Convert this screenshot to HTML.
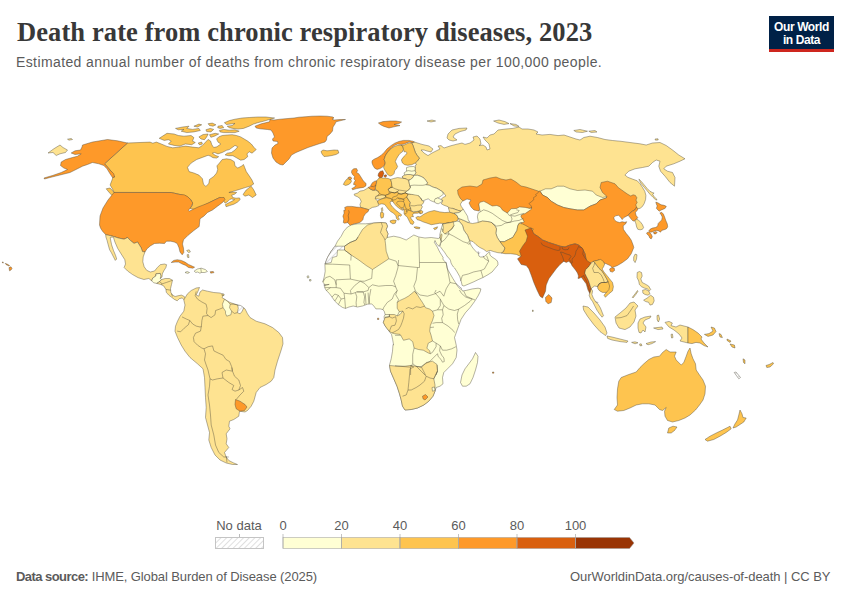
<!DOCTYPE html>
<html><head><meta charset="utf-8">
<title>Death rate from chronic respiratory diseases, 2023</title>
<style>
html,body{margin:0;padding:0;background:#fff;}
body{width:850px;height:600px;position:relative;overflow:hidden;font-family:"Liberation Sans",sans-serif;}
.title{position:absolute;left:17px;top:16px;font-family:"Liberation Serif",serif;font-weight:bold;font-size:26.5px;line-height:32px;color:#383838;white-space:nowrap;letter-spacing:0.1px;}
.sub{position:absolute;left:16px;top:52px;font-size:14px;line-height:20px;color:#5b5b5b;white-space:nowrap;letter-spacing:0.39px;}
.logo{position:absolute;left:769px;top:16px;width:65px;height:33px;background:#002147;border-bottom:3px solid #ce261e;color:#fff;text-align:center;font-weight:bold;font-size:12px;line-height:12.5px;letter-spacing:-0.4px;}
.logo span{display:block;}
.logo span:first-child{margin-top:5px;}
.foot{position:absolute;top:569px;font-size:13px;line-height:16px;color:#5b5b5b;white-space:nowrap;}
.fl{left:16px;}
.fr{left:570px;letter-spacing:-0.05px;}
.lg{position:absolute;font-size:13px;color:#5b5b5b;line-height:14px;top:519px;white-space:nowrap;transform:translateX(-50%);}
svg{position:absolute;left:0;top:0;}
</style></head><body>
<div class="title">Death rate from chronic respiratory diseases, 2023</div>
<div class="sub">Estimated annual number of deaths from chronic respiratory disease per 100,000 people.</div>
<div class="logo"><span>Our World</span><span>in Data</span></div>
<svg width="850" height="600" viewBox="0 0 850 600">
<defs><pattern id="h" width="4" height="4" patternUnits="userSpaceOnUse" patternTransform="rotate(45)"><rect width="4" height="4" fill="#fff"/><line x1="0" y1="0" x2="0" y2="4" stroke="#dcdcdc" stroke-width="1.8"/></pattern></defs>
<path d="M127.5,143.0L150.0,142.1L152.8,143.2L156.4,142.1L161.3,144.0L167.0,146.4L172.7,147.8L178.3,147.2L185.4,146.1L192.5,147.1L198.9,147.8L202.4,145.4L205.9,141.8L208.1,139.4L210.6,141.1L211.8,144.7L213.7,147.5L216.9,146.8L220.8,144.0L218.0,142.1L216.6,139.0L218.7,136.9L222.2,135.5L227.2,135.0L232.2,134.7L236.4,135.5L240.7,136.9L244.2,139.0L247.7,141.1L251.3,144.0L254.1,147.5L256.2,149.6L252.0,153.2L249.2,151.7L247.0,153.9L247.7,156.7L244.2,159.5L240.7,160.2L236.4,157.7L232.9,155.7L228.6,155.7L225.1,154.9L227.2,153.2L231.4,152.5L235.0,150.0L237.8,146.8L235.0,145.4L232.2,147.5L229.3,149.6L226.5,150.3L222.2,152.5L218.0,153.9L214.4,152.5L212.3,153.2L215.2,155.3L218.7,156.7L216.6,158.1L213.0,157.7L210.2,156.0L208.1,155.3L202.4,157.4L196.7,159.5L191.1,163.1L187.5,167.3L189.0,171.6L193.9,173.0L198.9,175.1L202.4,178.7L203.5,184.3L205.9,186.4L208.8,183.6L209.5,179.4L213.7,176.5L216.6,173.0L217.7,169.4L216.9,165.9L219.4,163.1L222.2,159.5L226.5,158.8L230.7,159.5L234.3,161.7L235.0,165.9L237.8,168.0L241.4,166.2L243.5,164.5L244.6,167.3L246.3,171.6L249.2,175.8L252.0,180.1L253.7,184.0L250.1,186.2L245.2,187.6L239.5,189.4L233.9,191.1L228.9,192.5L233.1,192.1L236.7,192.5L234.6,194.2L231.7,195.1L232.7,197.5L236.0,198.2L239.5,197.9L240.2,199.6L237.4,202.2L233.9,204.2L229.6,205.6L226.1,206.7L225.4,204.6L228.9,202.7L232.7,200.8L234.6,199.6L231.3,198.9L229.6,199.6L227.5,201.7L225.1,203.2L223.2,200.3L221.4,198.9L219.7,197.5L214.0,200.3L208.4,203.2L201.3,207.0L195.0,209.5L189.9,208.5L192.5,205.0L191.2,199.9L186.3,196.2L180.0,194.5L171.2,192.5L114.0,192.4L112.5,189.0L110.1,185.0L112.0,180.1L113.0,177.0L114.6,177.0L112.5,173.7L110.1,170.0L106.2,165.5L104.5,163.8Z" fill="#fec44f" stroke="#4a4638" stroke-width="0.42" stroke-linejoin="round"/>
<path d="M82.5,145.0L92.5,142.0L107.5,139.5L117.5,140.8L127.5,143.0L104.5,163.8L106.2,165.5L110.0,170.0L113.8,173.8L114.5,177.0L112.5,177.5L110.0,173.8L107.0,168.8L103.8,165.5L98.8,163.8L92.5,162.5L87.5,164.5L82.5,166.2L75.0,170.0L70.0,172.5L60.0,175.0L50.0,177.5L44.5,179.0L44.0,178.0L52.5,175.5L61.2,172.5L67.5,169.5L63.8,168.0L60.5,165.5L61.2,162.0L65.5,159.5L72.5,157.5L77.5,156.2L81.2,153.8L75.0,154.5L71.2,153.0L75.0,150.8L80.5,150.0L82.0,147.0Z" fill="#fe9929" stroke="#4a4638" stroke-width="0.42" stroke-linejoin="round"/>
<path d="M106.2,188.8L110.0,188.0L113.8,192.0L114.5,196.2L112.0,195.5L108.8,192.0Z" fill="#fec44f" stroke="#4a4638" stroke-width="0.42" stroke-linejoin="round"/>
<path d="M48.0,153.0L53.8,148.8L60.0,145.0L63.0,147.5L67.5,150.0L65.5,152.5L60.0,153.8L56.2,155.5L53.0,152.5Z" fill="#fee391" stroke="#4a4638" stroke-width="0.42" stroke-linejoin="round"/>
<path d="M67.5,139.2L71.2,138.5L72.5,139.5L69.0,140.2Z" fill="#fee391" stroke="#4a4638" stroke-width="0.42" stroke-linejoin="round"/>
<path d="M159.2,138.3L167.0,133.3L174.1,134.0L178.3,135.5L184.0,136.2L191.1,135.5L193.9,137.6L192.5,141.1L195.3,142.5L191.8,144.7L185.4,144.0L179.7,146.1L174.1,145.4L168.4,144.0L171.2,141.1L168.4,139.7L164.2,140.4Z" fill="#fec44f" stroke="#4a4638" stroke-width="0.42" stroke-linejoin="round"/>
<path d="M175.5,128.4L182.6,127.0L189.0,126.2L186.8,128.4L192.5,129.4L198.9,128.4L200.3,130.5L193.9,131.9L186.8,132.6L181.2,131.2L184.0,129.4L178.3,129.8Z" fill="#fec44f" stroke="#4a4638" stroke-width="0.42" stroke-linejoin="round"/>
<path d="M193.9,126.2L198.9,124.1L201.7,124.8L197.5,127.0Z" fill="#fec44f" stroke="#4a4638" stroke-width="0.42" stroke-linejoin="round"/>
<path d="M208.1,123.7L212.3,123.1L215.9,124.8L213.0,126.2L209.5,125.5Z" fill="#fec44f" stroke="#4a4638" stroke-width="0.42" stroke-linejoin="round"/>
<path d="M205.9,129.8L210.2,128.4L213.7,129.4L210.9,131.9L206.7,131.6Z" fill="#fec44f" stroke="#4a4638" stroke-width="0.42" stroke-linejoin="round"/>
<path d="M198.9,136.9L203.1,134.5L208.1,134.0L206.7,136.9L204.5,139.7L201.0,139.0Z" fill="#fec44f" stroke="#4a4638" stroke-width="0.42" stroke-linejoin="round"/>
<path d="M209.5,134.7L215.2,133.3L218.7,134.0L214.4,136.2L210.9,137.3Z" fill="#fec44f" stroke="#4a4638" stroke-width="0.42" stroke-linejoin="round"/>
<path d="M198.2,143.0L201.7,142.1L202.4,144.0L199.6,144.9Z" fill="#fec44f" stroke="#4a4638" stroke-width="0.42" stroke-linejoin="round"/>
<path d="M218.0,126.2L222.2,125.5L223.7,127.7L220.1,128.4L217.7,127.7Z" fill="#fec44f" stroke="#4a4638" stroke-width="0.42" stroke-linejoin="round"/>
<path d="M219.4,130.5L223.7,129.4L229.3,130.2L235.0,129.8L239.2,131.2L235.0,132.6L229.3,132.6L223.7,132.6L220.1,131.9Z" fill="#fec44f" stroke="#4a4638" stroke-width="0.42" stroke-linejoin="round"/>
<path d="M224.4,122.7L229.3,120.6L235.0,119.2L242.1,118.0L249.2,117.5L257.6,117.0L266.1,117.0L270.0,117.5L274.6,118.0L270.4,119.2L263.3,121.3L257.6,122.7L253.4,124.1L249.2,126.2L243.5,128.4L237.8,129.1L232.9,128.4L229.3,127.7L227.2,126.2L232.2,125.5L235.0,123.4L230.0,124.1L226.5,124.5Z" fill="#fec44f" stroke="#4a4638" stroke-width="0.42" stroke-linejoin="round"/>
<path d="M246.2,190.0L251.2,186.2L253.8,190.0L256.2,195.0L252.5,197.5L248.8,195.0L245.0,196.2L243.0,194.5Z" fill="#fec44f" stroke="#4a4638" stroke-width="0.42" stroke-linejoin="round"/>
<path d="M255.0,126.2L261.2,123.8L269.5,121.8L270.0,119.5L274.0,120.0L280.0,119.2L288.0,118.5L294.0,118.0L299.0,117.2L305.0,116.8L312.0,116.2L320.0,116.0L327.0,116.2L333.0,117.0L334.0,118.0L332.0,119.0L334.0,120.0L340.0,119.5L345.5,119.5L340.0,120.8L336.0,121.8L335.0,124.0L333.0,127.0L332.5,131.0L330.0,134.0L327.0,136.5L326.5,140.0L325.0,142.0L320.0,143.5L314.0,145.5L308.0,147.5L302.0,150.0L296.0,152.5L291.5,155.0L289.0,159.0L286.0,162.0L283.0,165.0L280.0,164.5L276.0,162.0L273.0,158.0L271.5,153.0L272.0,148.0L275.0,145.0L278.0,143.5L277.5,141.5L273.0,141.0L272.5,139.0L274.5,137.0L273.0,133.0L271.0,130.0L267.5,129.5L260.0,128.8L256.2,128.0Z" fill="#fe9929" stroke="#4a4638" stroke-width="0.42" stroke-linejoin="round"/>
<path d="M321.0,151.5L323.0,150.0L327.0,150.8L330.0,150.5L334.0,150.0L338.0,150.2L338.8,153.0L336.0,154.5L332.0,155.5L328.0,156.2L324.0,156.5L322.0,154.0Z" fill="#fec44f" stroke="#4a4638" stroke-width="0.42" stroke-linejoin="round"/>
<path d="M99.5,225.0L100.5,228.0L102.5,231.2L105.8,234.8L112.0,236.0L118.5,238.0L124.0,239.2L127.5,237.5L130.5,240.5L134.0,243.5L137.5,242.0L141.0,247.8L142.5,251.8L145.0,252.0L146.8,249.0L150.2,246.0L154.5,243.5L159.5,243.2L164.5,243.5L166.5,241.2L170.8,241.2L174.2,242.0L177.2,243.5L179.0,247.8L180.0,252.0L182.2,254.8L183.8,252.5L183.5,248.2L182.5,244.0L183.5,239.8L187.8,235.5L193.5,230.8L199.2,226.5L200.0,218.8L203.8,216.2L207.5,212.5L212.5,210.0L217.5,206.2L222.5,202.5L225.0,199.5L224.0,197.5L219.8,197.5L214.0,200.2L208.2,203.0L202.8,205.2L198.5,206.8L194.2,208.8L189.2,211.2L188.5,210.2L191.2,206.8L192.8,203.0L190.5,199.5L187.8,196.8L184.2,194.8L180.0,194.5L171.2,192.5L114.0,192.5L108.0,200.0L103.0,208.0L100.0,216.0Z" fill="#fe9929" stroke="#4a4638" stroke-width="0.42" stroke-linejoin="round"/>
<path d="M105.7,234.6L112.0,236.0L118.4,238.0L124.1,239.2L127.6,237.5L130.5,240.6L134.0,243.4L137.5,242.0L141.1,247.7L142.5,251.6L145.0,251.9L143.2,256.9L142.8,261.8L144.2,266.8L146.7,270.3L150.3,272.0L154.5,271.0L157.4,267.5L160.2,264.7L164.4,264.0L166.6,264.7L165.9,267.5L163.7,271.0L162.3,273.9L162.0,277.1L160.9,278.1L160.2,278.5L160.9,276.0L160.2,273.4L155.9,273.9L155.9,276.0L152.7,278.1L151.7,280.9L148.9,278.5L143.9,279.5L138.2,277.7L132.6,274.6L127.6,271.0L124.1,267.5L125.5,264.0L124.8,259.7L121.2,254.0L117.7,248.4L114.9,242.0L113.5,237.5L112.0,237.0L110.2,237.7L111.6,244.8L113.5,250.5L115.6,255.5L116.7,259.0L115.3,260.4L113.5,256.9L111.3,252.6L109.6,249.8L108.2,244.8L107.1,240.6L105.9,237.0Z" fill="#fee391" stroke="#4a4638" stroke-width="0.42" stroke-linejoin="round"/>
<path d="M151.7,280.9L152.7,278.1L155.9,276.0L155.9,273.9L160.2,273.4L160.9,276.0L160.2,278.5L161.6,279.5L159.5,281.7L156.7,283.4L153.8,282.8Z" fill="#ffffd4" stroke="#4a4638" stroke-width="0.42" stroke-linejoin="round"/>
<path d="M161.6,279.5L165.2,278.5L169.4,278.5L172.5,280.2L171.5,284.5L170.5,288.7L170.8,292.3L172.5,295.1L175.1,296.5L177.9,295.8L181.4,295.1L184.3,296.5L185.7,299.4L184.3,300.1L182.2,297.9L179.3,298.7L177.2,300.8L174.4,299.4L171.5,297.2L168.7,295.1L166.3,292.3L165.9,289.4L163.7,285.9L160.9,284.5L156.7,283.4L159.5,281.7Z" fill="#fee391" stroke="#4a4638" stroke-width="0.42" stroke-linejoin="round"/>
<path d="M171.2,262.5L173.7,260.4L177.2,259.7L181.4,260.4L185.0,262.1L188.5,264.4L192.1,266.1L194.6,267.2L192.8,268.2L188.5,267.5L185.7,265.4L182.2,264.0L178.6,262.1L175.1,262.1Z" fill="#fe9929" stroke="#4a4638" stroke-width="0.42" stroke-linejoin="round"/>
<path d="M194.2,271.0L197.7,268.9L201.3,268.2L205.5,269.6L207.4,271.5L204.8,272.5L201.3,272.5L199.9,273.2L197.7,272.0L195.6,272.5Z" fill="#ffffd4" stroke="#4a4638" stroke-width="0.42" stroke-linejoin="round"/>
<path d="M185.0,272.5L187.1,271.5L189.5,272.5L187.8,273.4Z" fill="#ffffd4" stroke="#4a4638" stroke-width="0.42" stroke-linejoin="round"/>
<path d="M210.2,271.7L213.3,271.5L214.0,272.6L210.8,273.2Z" fill="#fe9929" stroke="#4a4638" stroke-width="0.42" stroke-linejoin="round"/>
<path d="M186.7,250.5L189.2,249.8L190.4,251.9L188.5,252.6Z" fill="#fee391" stroke="#4a4638" stroke-width="0.42" stroke-linejoin="round"/>
<path d="M187.1,254.7L188.5,254.5L189.0,257.6L187.5,257.3Z" fill="#fee391" stroke="#4a4638" stroke-width="0.42" stroke-linejoin="round"/>
<path d="M185.5,297.0L187.5,293.8L191.2,290.5L196.2,288.0L199.5,287.5L198.0,291.2L196.2,295.0L198.8,296.2L200.0,292.0L202.5,290.0L207.5,291.2L213.8,292.5L220.0,293.0L223.8,294.5L222.0,297.5L225.0,299.5L230.0,302.5L236.2,304.5L240.0,306.2L245.0,308.8L247.5,313.8L250.0,317.5L256.2,321.2L265.0,323.8L272.5,327.5L278.8,332.5L282.5,337.5L283.0,343.8L281.2,350.0L277.5,361.2L275.0,370.0L273.8,377.5L271.2,381.2L266.2,384.5L260.0,387.5L256.2,392.5L253.8,401.2L251.2,406.2L247.5,410.5L245.0,412.0L239.5,411.2L238.8,416.2L233.8,419.5L229.5,421.2L228.8,426.2L230.0,428.8L226.2,433.8L227.0,438.8L226.2,443.8L228.8,447.5L224.5,452.5L226.2,457.0L228.8,460.5L233.8,463.0L237.5,464.5L232.5,464.5L226.2,463.0L220.0,460.0L215.0,455.0L211.2,447.5L208.8,440.0L209.5,432.5L207.5,425.0L205.5,417.5L206.2,407.5L205.5,397.5L205.0,387.5L204.5,377.5L203.0,368.8L197.5,363.8L190.0,357.5L185.0,351.2L181.2,345.0L177.5,337.5L175.0,331.2L175.5,326.2L177.5,321.2L180.0,316.2L183.8,311.2L185.0,305.0L183.8,300.0Z" fill="#fee391" stroke="#4a4638" stroke-width="0.42" stroke-linejoin="round"/>
<path d="M235.5,399.5L240.0,401.2L245.0,404.5L247.0,407.0L244.5,410.5L240.0,411.2L236.2,408.8L235.0,404.5Z" fill="#fe9929" stroke="#4a4638" stroke-width="0.42" stroke-linejoin="round"/>
<path d="M224.5,299.2L227.4,301.3L230.2,304.2L229.5,307.7L231.6,311.2L230.9,314.8L226.7,316.2L225.5,313.4L225.5,311.2L223.1,307.7L222.4,304.2Z" fill="#ffffd4" stroke="#4a4638" stroke-width="0.42" stroke-linejoin="round"/>
<path d="M237.7,304.9L240.8,305.6L243.7,307.7L242.2,311.2L240.1,313.8L237.3,312.7L238.3,308.4Z" fill="url(#h)" stroke="#4a4638" stroke-width="0.42" stroke-linejoin="round"/>
<path d="M614.2,409.5L617.5,405.0L617.0,397.5L617.5,388.8L618.8,381.2L621.2,377.5L628.8,374.5L636.2,372.0L640.0,367.5L643.8,363.8L648.8,359.5L653.8,357.0L659.5,356.2L662.5,352.5L666.2,349.5L670.0,352.0L676.2,352.0L674.5,356.2L676.2,360.0L681.2,365.0L683.8,362.5L686.2,356.2L688.0,351.2L690.0,348.0L691.2,353.8L693.0,358.8L695.5,363.8L696.2,370.0L699.5,375.0L703.0,380.0L705.5,386.2L705.0,393.8L703.0,400.0L699.5,405.0L695.5,410.0L690.0,415.0L685.0,418.0L678.8,420.5L672.5,422.0L667.5,420.5L665.0,416.2L664.5,411.2L666.2,407.5L662.5,410.5L659.5,409.5L655.0,405.0L648.8,403.8L642.5,403.8L636.2,405.0L630.0,408.0L623.8,410.5L617.5,411.2Z" fill="#fec44f" stroke="#4a4638" stroke-width="0.42" stroke-linejoin="round"/>
<path d="M667.5,433.0L668.8,428.0L673.0,426.2L677.0,427.0L674.5,430.5L671.2,433.0Z" fill="#fec44f" stroke="#4a4638" stroke-width="0.42" stroke-linejoin="round"/>
<path d="M740.0,410.0L742.0,413.8L743.0,417.5L746.2,418.0L743.8,422.0L740.0,424.5L736.2,427.0L733.0,428.0L735.0,423.8L737.5,420.0L738.8,415.0Z" fill="#fec44f" stroke="#4a4638" stroke-width="0.42" stroke-linejoin="round"/>
<path d="M730.0,426.2L731.2,428.8L726.2,432.5L720.0,436.2L713.8,439.5L707.5,441.2L705.0,439.5L710.0,436.2L716.2,433.0L722.5,430.0L727.5,427.5Z" fill="#fec44f" stroke="#4a4638" stroke-width="0.42" stroke-linejoin="round"/>
<path d="M414.4,142.0L422.0,144.4L429.0,146.0L433.0,149.0L431.0,152.0L427.0,151.0L424.0,150.0L421.0,150.0L424.0,153.0L428.0,155.6L432.0,153.0L436.0,151.0L440.0,149.0L438.0,146.0L441.0,145.6L444.0,148.0L450.0,146.0L456.0,144.4L462.0,143.0L465.0,144.4L470.0,143.0L474.0,140.0L473.0,137.0L477.0,136.0L480.0,139.0L481.0,144.0L479.0,145.6L483.0,145.0L486.0,147.0L487.0,150.0L490.0,149.0L489.0,144.0L485.0,140.0L483.0,137.0L487.0,138.0L490.0,135.0L494.0,134.0L498.0,130.0L506.0,129.0L513.0,128.4L519.0,127.0L522.0,129.0L528.0,129.0L534.0,130.0L538.0,132.0L536.0,134.0L542.0,135.0L550.0,134.4L558.0,135.6L564.0,135.0L570.0,137.0L576.0,139.0L580.0,140.0L583.8,137.5L590.0,136.2L597.5,137.5L605.0,139.5L612.5,140.5L620.0,141.2L630.0,142.5L640.0,143.8L646.2,145.0L652.5,143.0L660.0,142.5L666.2,145.5L672.5,150.0L678.8,155.0L685.0,158.8L680.0,161.2L673.8,163.8L666.2,166.2L663.8,168.8L667.5,171.2L672.5,172.5L675.0,177.5L674.5,186.2L670.0,182.5L665.0,176.2L660.5,171.2L658.8,166.2L660.0,161.2L656.2,160.0L652.5,162.5L648.8,166.2L642.5,167.5L635.0,168.8L628.8,171.2L624.9,175.0L627.8,177.3L632.5,179.1L637.2,180.8L640.1,183.8L642.4,187.3L644.8,191.3L645.9,195.4L645.6,199.5L644.2,203.6L642.4,206.5L640.1,208.3L637.8,208.8L630.0,205.0L605.0,200.0L555.0,200.0L505.0,195.0L480.0,195.0L490.0,190.0L470.0,194.0L462.4,201.2L460.4,204.1L461.1,206.2L463.2,209.1L461.1,211.2L457.5,210.2L452.6,208.4L450.2,209.5L448.1,206.7L443.8,205.2L441.3,203.8L442.7,200.7L441.3,198.9L443.1,197.5L445.9,196.0L443.0,192.0L439.8,190.0L439.8,190.0L436.5,188.2L432.9,187.1L429.4,185.3L425.9,184.7L427.6,182.9L425.9,180.6L424.1,178.2L421.2,176.5L417.6,175.3L414.1,175.3L415.9,172.9L415.1,170.6L415.3,167.4L415.3,165.3L416.5,164.7L415.3,162.9L417.6,160.8L419.4,158.2L417.1,155.3L415.3,152.4L414.1,148.8L412.9,145.3L411.8,142.7Z" fill="#fee391" stroke="#4a4638" stroke-width="0.42" stroke-linejoin="round"/>
<path d="M402.4,176.5L404.5,175.9L406.5,176.8L405.9,178.5L402.9,178.2Z" fill="#fee391" stroke="#4a4638" stroke-width="0.42" stroke-linejoin="round"/>
<path d="M447.0,138.0L448.0,134.0L452.0,130.0L459.0,128.4L467.0,128.0L466.0,130.0L460.0,131.6L455.0,134.0L453.0,137.0L457.0,140.0L453.0,141.0L449.0,140.0Z" fill="#fee391" stroke="#4a4638" stroke-width="0.42" stroke-linejoin="round"/>
<path d="M427.0,121.0L432.0,120.0L435.6,121.0L431.0,122.0Z" fill="#fee391" stroke="#4a4638" stroke-width="0.42" stroke-linejoin="round"/>
<path d="M493.6,121.0L499.0,120.0L505.0,121.6L509.0,123.6L504.0,124.4L498.0,123.0Z" fill="#fee391" stroke="#4a4638" stroke-width="0.42" stroke-linejoin="round"/>
<path d="M510.0,123.6L516.0,124.4L519.0,126.4L514.0,126.0Z" fill="#fee391" stroke="#4a4638" stroke-width="0.42" stroke-linejoin="round"/>
<path d="M573.8,130.5L580.0,129.5L587.5,131.2L582.5,132.5L576.2,132.0Z" fill="#fee391" stroke="#4a4638" stroke-width="0.42" stroke-linejoin="round"/>
<path d="M588.8,131.2L595.0,130.5L597.0,132.0L591.2,132.5Z" fill="#fee391" stroke="#4a4638" stroke-width="0.42" stroke-linejoin="round"/>
<path d="M638.9,179.1L641.3,181.4L644.2,184.9L647.1,188.4L650.0,191.3L652.3,192.5L654.1,193.1L652.6,194.3L654.1,196.6L656.4,198.9L657.0,200.1L655.3,199.5L652.9,197.2L650.0,194.3L647.1,190.8L644.2,187.3L641.3,183.8L639.5,180.8Z" fill="#fee391" stroke="#4a4638" stroke-width="0.42" stroke-linejoin="round"/>
<path d="M457.6,190.0L462.0,187.0L470.0,186.0L477.0,187.0L482.0,184.0L483.0,180.0L490.0,178.0L496.0,177.0L501.0,179.0L506.0,180.0L511.0,179.0L516.0,182.0L521.0,186.0L526.0,187.0L532.0,189.0L538.0,191.0L543.0,194.0L542.0,199.0L538.0,202.0L537.0,206.0L536.0,210.0L530.0,212.0L525.0,211.0L519.0,212.0L514.0,213.0L510.0,215.0L506.0,213.0L501.0,210.0L496.0,208.0L490.0,206.0L484.0,205.0L479.0,204.0L480.0,208.0L479.0,211.0L474.0,210.0L471.0,207.0L469.0,203.0L471.0,200.0L467.0,199.0L463.0,201.0L460.0,198.0L458.0,194.0Z" fill="#fe9929" stroke="#4a4638" stroke-width="0.42" stroke-linejoin="round"/>
<path d="M540.0,191.2L545.5,188.8L551.2,188.8L557.5,186.2L563.8,186.2L570.0,188.8L577.5,190.5L585.0,190.0L592.5,191.2L596.2,195.0L602.5,197.5L607.0,196.5L606.2,198.0L600.0,200.0L596.2,203.8L590.0,206.2L583.8,210.0L577.5,210.0L570.0,208.8L563.8,207.5L557.5,205.0L551.2,201.2L547.5,197.5L542.5,195.0Z" fill="#ffffd4" stroke="#4a4638" stroke-width="0.42" stroke-linejoin="round"/>
<path d="M515.8,227.6L517.6,218.2L527.1,208.8L531.6,207.9L531.3,206.0L528.9,203.6L532.7,200.8L534.1,198.9L533.2,198.0L536.5,195.6L535.5,194.7L538.4,192.4L539.3,190.9L540.0,191.2L542.5,195.0L547.5,197.5L551.2,201.2L557.5,205.0L563.8,207.5L570.0,208.8L577.5,210.0L583.8,210.0L590.0,206.2L596.2,203.8L600.0,200.0L606.2,198.0L607.0,196.5L602.5,192.5L600.0,187.5L601.2,182.5L607.5,181.2L615.0,183.8L618.5,187.8L622.0,190.2L624.9,192.3L627.8,194.3L630.8,196.0L633.1,194.8L635.4,195.4L636.9,197.8L636.0,200.1L637.2,202.4L635.8,204.8L636.6,207.1L634.8,210.0L632.5,211.2L630.2,212.9L628.1,215.3L626.1,216.4L623.8,217.6L622.2,219.6L620.6,217.2L618.5,215.3L615.6,215.8L613.8,217.6L614.4,219.9L616.8,221.7L619.7,222.6L622.0,221.7L624.9,222.3L626.7,221.7L625.5,224.0L623.2,225.8L623.4,229.3L626.1,233.3L629.0,236.8L631.3,240.3L633.1,245.0L633.8,247.5L631.2,253.8L627.5,258.8L622.5,262.5L617.5,265.5L612.5,267.5L610.0,265.5L606.2,263.8L602.5,262.5L598.8,260.0L595.0,261.2L591.2,262.5L588.0,264.5L586.2,260.0L585.0,253.8L582.5,248.8L578.8,245.0L575.0,243.8L570.0,245.0L565.0,247.0L560.0,246.2L555.0,244.5L548.8,242.5L542.5,240.0L538.8,237.0L533.8,233.8L528.8,229.5L525.0,230.0L522.5,225.0L520.0,221.2Z" fill="#fe9929" stroke="#4a4638" stroke-width="0.42" stroke-linejoin="round"/>
<path d="M480.0,202.2L483.8,201.3L487.5,203.2L492.2,206.0L496.9,205.5L500.2,206.9L502.6,210.2L507.3,213.1L511.1,208.8L516.7,208.4L519.5,206.9L525.2,207.4L529.9,208.4L531.6,207.9L531.3,209.3L528.0,211.6L525.2,213.5L521.4,214.9L520.9,216.8L522.8,219.2L524.2,222.0L523.3,222.5L520.5,222.5L518.6,223.9L517.7,226.1L517.0,230.3L514.9,233.9L512.8,237.4L508.5,239.5L504.3,241.7L500.0,241.7L497.2,237.4L495.8,233.2L496.5,228.9L495.1,226.1L491.5,222.5L487.3,221.5L482.3,221.1L478.1,222.5L478.1,220.4L477.4,216.9L478.1,213.3L480.2,211.9L479.5,208.4L478.8,204.1Z" fill="#ffffd4" stroke="#4a4638" stroke-width="0.42" stroke-linejoin="round"/>
<path d="M458.2,218.3L460.4,219.0L463.9,220.4L468.2,222.5L472.4,223.5L478.1,222.5L482.3,221.1L487.3,221.5L491.5,222.5L495.1,226.1L496.5,228.9L495.8,233.2L497.2,237.4L500.0,241.7L502.2,244.5L505.0,248.0L503.6,251.6L501.4,253.0L497.9,252.7L493.7,251.6L490.1,250.4L486.6,251.6L483.7,249.4L479.5,247.3L475.9,244.5L473.1,241.7L471.0,240.9L469.6,240.9L467.5,235.3L463.9,230.3L462.5,225.4L459.7,221.8Z" fill="#fee391" stroke="#4a4638" stroke-width="0.42" stroke-linejoin="round"/>
<path d="M502.2,244.5L500.0,241.7L504.3,241.7L508.5,239.5L512.8,237.4L514.9,233.9L517.0,230.3L517.7,226.1L519.2,223.2L522.7,224.0L525.5,225.4L529.1,227.5L533.3,228.9L531.9,231.7L529.1,233.2L529.8,237.4L528.4,240.9L526.2,244.5L524.1,248.0L521.3,249.4L522.0,252.3L523.4,255.1L520.6,256.5L516.3,254.4L510.7,253.7L505.0,253.7L501.4,253.0L503.6,251.6L505.0,248.0Z" fill="#fec44f" stroke="#4a4638" stroke-width="0.42" stroke-linejoin="round"/>
<path d="M525.0,230.0L528.0,229.0L531.2,228.0L533.8,233.8L538.8,237.0L542.5,240.0L548.8,242.5L555.0,244.5L560.0,246.2L565.0,247.0L570.0,245.0L575.0,243.8L578.8,245.0L582.5,248.8L585.0,253.8L586.2,260.0L588.0,264.5L590.0,267.5L587.5,271.2L585.0,273.8L586.2,277.5L588.8,282.5L590.5,288.8L590.0,293.8L588.0,290.0L586.2,283.8L582.5,278.8L579.5,275.0L577.5,271.2L574.5,267.5L571.2,263.8L568.8,261.2L566.2,262.5L563.8,261.2L560.0,264.5L556.2,268.8L552.5,273.8L548.8,278.8L546.2,285.0L545.5,291.2L542.5,298.0L540.0,296.2L537.0,290.0L533.8,282.5L531.2,275.0L528.8,268.8L526.2,265.5L521.2,264.5L517.5,258.8L521.2,256.2L519.5,251.2L522.5,246.2L526.2,241.2L527.5,236.2Z" fill="#d95f0e" stroke="#4a4638" stroke-width="0.42" stroke-linejoin="round"/>
<path d="M545.5,297.5L548.8,294.5L552.0,298.0L551.2,302.5L548.0,303.8L545.8,301.2Z" fill="#fe9929" stroke="#4a4638" stroke-width="0.42" stroke-linejoin="round"/>
<path d="M578.5,246.5L579.2,247.0L582.0,247.7L583.4,250.6L582.7,254.1L584.8,257.7L587.7,261.2L591.2,263.3L588.4,266.9L585.5,269.7L584.8,273.2L586.2,276.1L588.4,280.3L589.8,284.6L591.2,288.8L590.2,292.4L589.1,289.5L587.7,284.6L586.0,280.3L584.1,276.8L584.0,275.5L582.0,276.5L580.0,278.1L578.0,278.5L578.5,276.1L577.5,273.0L575.5,270.0L573.5,267.6L571.9,265.5L571.5,263.5L572.5,262.1L571.9,259.9L572.9,257.9L574.5,256.5L575.5,254.0L576.0,251.0L577.5,249.0Z" fill="#d95f0e" stroke="#4a4638" stroke-width="0.42" stroke-linejoin="round"/>
<path d="M591.2,263.3L593.3,261.2L594.7,262.6L596.9,265.5L599.0,268.3L602.1,271.1L604.4,274.7L606.8,278.9L608.2,281.7L606.1,282.5L601.8,282.5L599.0,283.9L597.6,286.7L594.7,286.0L592.6,287.4L591.2,288.8L589.8,284.6L588.4,280.3L586.2,276.1L584.8,273.2L585.5,269.7L588.4,266.9Z" fill="#fee391" stroke="#4a4638" stroke-width="0.42" stroke-linejoin="round"/>
<path d="M590.2,292.4L591.2,288.8L592.6,290.9L591.9,294.5L593.3,298.0L595.5,301.6L598.3,304.4L600.4,307.9L602.1,312.2L603.5,315.7L602.1,317.2L599.7,314.3L596.9,310.1L594.7,305.8L592.6,301.6L590.5,298.7L589.1,295.2Z" fill="#fee391" stroke="#4a4638" stroke-width="0.42" stroke-linejoin="round"/>
<path d="M593.3,261.2L596.9,260.5L600.4,259.4L603.2,261.2L604.7,264.0L603.5,266.9L602.1,269.0L604.0,272.1L606.8,275.4L609.6,278.9L612.5,282.5L613.4,286.7L612.5,290.9L608.9,293.8L605.4,297.3L604.0,295.2L606.4,292.4L602.5,292.4L599.7,290.9L597.9,288.8L597.6,286.7L599.0,283.9L601.8,282.5L606.1,282.5L608.2,281.7L606.8,278.9L604.4,274.7L602.1,271.1L599.0,268.3L596.9,265.5L594.7,262.6Z" fill="#fec44f" stroke="#4a4638" stroke-width="0.42" stroke-linejoin="round"/>
<path d="M609.6,269.0L611.7,267.6L614.3,268.3L614.6,270.4L612.5,272.1L610.3,271.5Z" fill="#fe9929" stroke="#4a4638" stroke-width="0.42" stroke-linejoin="round"/>
<path d="M633.7,257.0L635.1,254.1L637.0,254.8L636.5,259.1L635.1,262.6L633.7,260.5Z" fill="#fee391" stroke="#4a4638" stroke-width="0.42" stroke-linejoin="round"/>
<path d="M637.2,272.5L639.4,271.5L641.5,272.5L642.2,276.1L640.8,278.9L642.2,282.5L645.0,283.9L648.6,286.0L650.7,289.5L649.3,290.9L647.2,288.8L644.3,288.1L641.5,286.7L639.4,284.6L638.7,281.0L637.0,277.5Z" fill="#fee391" stroke="#4a4638" stroke-width="0.42" stroke-linejoin="round"/>
<path d="M642.6,290.2L645.7,289.5L648.6,290.9L650.0,293.8L647.9,295.2L645.0,294.5L642.9,293.1Z" fill="#fee391" stroke="#4a4638" stroke-width="0.42" stroke-linejoin="round"/>
<path d="M643.6,300.2L647.2,298.0L650.7,295.2L653.5,297.3L654.2,300.9L652.5,304.4L650.0,305.1L648.6,302.3L645.7,301.6Z" fill="#fee391" stroke="#4a4638" stroke-width="0.42" stroke-linejoin="round"/>
<path d="M632.3,297.3L635.1,293.8L637.5,290.5L637.9,291.4L635.8,294.5L633.0,298.0Z" fill="#fee391" stroke="#4a4638" stroke-width="0.42" stroke-linejoin="round"/>
<path d="M583.0,306.0L588.0,307.0L594.0,313.0L600.0,320.0L605.0,327.0L607.0,333.0L605.6,335.6L600.0,331.6L593.6,324.4L587.6,316.4L583.6,310.0Z" fill="#fee391" stroke="#4a4638" stroke-width="0.42" stroke-linejoin="round"/>
<path d="M607.0,336.0L612.0,337.0L620.0,339.0L628.0,341.0L627.0,342.4L620.0,341.6L612.0,340.0L607.6,338.4Z" fill="#fee391" stroke="#4a4638" stroke-width="0.42" stroke-linejoin="round"/>
<path d="M615.0,317.0L620.0,313.0L626.0,308.0L630.0,303.0L634.0,302.0L638.0,306.0L635.0,310.0L636.0,316.0L634.0,322.0L630.0,327.0L625.0,329.6L619.0,328.0L616.0,323.0Z" fill="#fee391" stroke="#4a4638" stroke-width="0.42" stroke-linejoin="round"/>
<path d="M638.0,323.0L640.0,319.0L645.0,317.0L651.0,316.0L650.0,318.0L645.0,320.0L643.0,323.0L646.0,327.0L645.0,332.0L643.0,330.0L641.0,333.0L639.0,332.4L638.0,328.0Z" fill="#fee391" stroke="#4a4638" stroke-width="0.42" stroke-linejoin="round"/>
<path d="M631.6,342.4L635.0,341.8L638.0,342.8L635.0,343.8Z" fill="#fee391" stroke="#4a4638" stroke-width="0.42" stroke-linejoin="round"/>
<path d="M639.6,344.0L641.2,343.8L642.0,345.6L640.0,345.8Z" fill="#fee391" stroke="#4a4638" stroke-width="0.42" stroke-linejoin="round"/>
<path d="M646.0,343.6L651.0,342.0L655.6,341.6L652.0,343.6L648.0,344.8Z" fill="#fee391" stroke="#4a4638" stroke-width="0.42" stroke-linejoin="round"/>
<path d="M657.0,315.6L658.6,315.0L659.6,319.0L658.4,322.0L657.2,320.0Z" fill="#fee391" stroke="#4a4638" stroke-width="0.42" stroke-linejoin="round"/>
<path d="M653.6,328.0L657.0,327.6L662.0,327.0L663.0,329.0L658.0,329.6Z" fill="#fee391" stroke="#4a4638" stroke-width="0.42" stroke-linejoin="round"/>
<path d="M671.0,334.4L672.4,334.0L673.0,337.6L671.6,338.0Z" fill="#fee391" stroke="#4a4638" stroke-width="0.42" stroke-linejoin="round"/>
<path d="M637.8,208.8L637.2,210.6L635.4,212.3L636.0,215.3L637.8,217.6L636.6,219.3L634.8,220.7L633.1,221.1L631.3,219.3L629.6,217.0L628.1,215.3L630.2,212.9L632.5,211.2L634.8,210.0L636.6,207.1Z" fill="#fe9929" stroke="#4a4638" stroke-width="0.42" stroke-linejoin="round"/>
<path d="M634.8,220.7L636.6,219.3L638.3,219.9L640.7,222.3L642.4,224.6L643.6,227.5L642.4,229.3L640.1,229.8L637.8,229.3L636.6,226.9L636.0,224.0L635.4,222.3Z" fill="#fee391" stroke="#4a4638" stroke-width="0.42" stroke-linejoin="round"/>
<path d="M655.8,202.1L658.2,203.0L661.1,204.8L664.0,205.3L666.3,206.3L665.2,208.3L662.8,209.4L661.1,210.0L659.3,211.2L657.9,210.0L656.4,208.3L657.2,205.9L656.4,204.2Z" fill="#fe9929" stroke="#4a4638" stroke-width="0.42" stroke-linejoin="round"/>
<path d="M659.9,212.9L661.7,212.3L663.4,214.1L664.6,217.0L665.8,220.5L667.3,224.0L667.7,226.9L666.3,228.9L664.0,229.8L661.7,230.4L660.5,232.2L658.8,231.0L656.4,230.4L654.1,231.0L652.3,231.9L650.0,232.2L648.8,231.0L650.0,229.3L652.3,228.1L655.3,227.5L657.6,226.3L658.2,223.4L659.9,221.7L661.7,219.9L662.3,217.0L661.1,214.7Z" fill="#fe9929" stroke="#4a4638" stroke-width="0.42" stroke-linejoin="round"/>
<path d="M653.5,232.2L655.8,231.6L657.2,232.4L655.8,233.9L654.1,233.9Z" fill="#fe9929" stroke="#4a4638" stroke-width="0.42" stroke-linejoin="round"/>
<path d="M646.5,233.1L648.3,231.9L650.0,232.8L651.4,234.5L652.3,236.8L651.2,238.9L649.8,238.0L648.8,235.7L647.4,234.5Z" fill="#fe9929" stroke="#4a4638" stroke-width="0.42" stroke-linejoin="round"/>
<path d="M665.0,322.4L669.0,321.4L672.4,323.0L671.0,325.6L676.0,327.0L680.0,325.0L688.0,327.0L688.0,343.0L684.0,342.0L680.0,341.0L682.0,338.0L679.0,334.0L674.0,330.0L669.0,327.0Z" fill="#fee391" stroke="#4a4638" stroke-width="0.42" stroke-linejoin="round"/>
<path d="M688.0,327.0L693.0,329.6L698.0,333.0L702.0,337.0L701.0,339.0L704.0,343.0L708.0,347.0L704.0,345.6L700.0,343.0L696.0,342.4L692.0,343.6L688.0,343.0Z" fill="#fec44f" stroke="#4a4638" stroke-width="0.42" stroke-linejoin="round"/>
<path d="M704.4,334.4L709.0,333.6L713.0,331.0L711.0,327.0L714.4,328.0L716.0,331.6L713.0,335.0L708.0,336.4Z" fill="#fec44f" stroke="#4a4638" stroke-width="0.42" stroke-linejoin="round"/>
<path d="M719.0,333.6L721.0,334.4L722.4,337.6L720.0,337.0Z" fill="#fec44f" stroke="#4a4638" stroke-width="0.42" stroke-linejoin="round"/>
<path d="M727.0,339.0L731.0,341.0L730.0,342.4L727.0,340.4Z" fill="#fec44f" stroke="#4a4638" stroke-width="0.42" stroke-linejoin="round"/>
<path d="M730.0,344.0L734.4,345.0L735.0,348.0L732.0,347.0Z" fill="#fec44f" stroke="#4a4638" stroke-width="0.42" stroke-linejoin="round"/>
<path d="M743.0,358.8L745.0,360.0L745.0,363.8L743.5,362.5Z" fill="#fec44f" stroke="#4a4638" stroke-width="0.42" stroke-linejoin="round"/>
<path d="M766.0,365.5L769.2,364.5L773.0,362.5L773.5,363.8L770.0,367.0L766.8,367.5Z" fill="#fec44f" stroke="#4a4638" stroke-width="0.42" stroke-linejoin="round"/>
<path d="M734.2,372.5L736.0,372.0L740.5,377.5L738.8,378.8Z" fill="url(#h)" stroke="#4a4638" stroke-width="0.42" stroke-linejoin="round"/>
<path d="M377.6,181.8L410.6,180.6L410.6,195.9L405.9,205.3L389.4,200.6L377.6,195.9Z" fill="#fec44f" stroke="#4a4638" stroke-width="0.42" stroke-linejoin="round"/>
<path d="M372.0,160.8L374.1,159.2L377.6,157.6L381.2,155.3L384.1,152.4L387.1,148.8L390.6,145.9L394.7,143.2L398.8,141.5L403.5,140.4L408.8,140.4L412.9,141.2L414.4,142.1L411.8,142.7L409.4,141.8L406.5,142.9L404.1,144.1L401.2,144.4L397.6,144.1L394.7,145.3L391.8,147.6L389.4,150.2L387.1,152.9L385.3,155.9L384.1,159.4L385.3,162.9L384.5,165.3L382.4,167.1L380.0,168.6L377.1,169.4L374.7,168.2L372.9,165.3L372.0,162.9Z" fill="#fe9929" stroke="#4a4638" stroke-width="0.42" stroke-linejoin="round"/>
<path d="M378.4,123.0L383.0,121.6L390.0,121.0L396.0,121.0L401.6,122.0L399.0,123.6L394.0,124.4L400.0,125.6L394.0,126.8L389.0,128.0L384.0,126.4L381.0,125.0Z" fill="#fe9929" stroke="#4a4638" stroke-width="0.42" stroke-linejoin="round"/>
<path d="M385.3,155.9L387.1,152.9L389.4,150.2L392.0,147.9L395.1,146.2L397.9,145.3L401.2,145.3L402.9,146.7L403.5,149.4L402.4,151.8L400.0,153.5L398.2,155.9L396.5,158.8L395.3,161.5L396.5,164.1L397.6,166.5L396.5,168.8L394.7,170.6L394.1,173.5L392.4,175.3L390.0,176.1L387.6,174.5L385.9,171.8L384.1,168.8L383.5,167.1L384.5,165.3L385.3,162.9L384.1,159.4Z" fill="#fec44f" stroke="#4a4638" stroke-width="0.42" stroke-linejoin="round"/>
<path d="M401.2,145.3L404.1,145.1L406.5,143.9L409.2,142.7L411.8,143.2L412.9,145.3L414.1,148.8L415.3,152.4L417.1,155.3L419.4,158.2L417.6,160.8L415.3,162.9L411.8,164.7L407.6,165.3L404.7,164.7L402.4,162.9L401.4,160.0L402.9,157.6L405.3,155.3L407.1,152.9L405.9,151.8L404.1,151.8L403.5,149.4L402.9,146.5Z" fill="#fec44f" stroke="#4a4638" stroke-width="0.42" stroke-linejoin="round"/>
<path d="M378.4,173.8L380.0,171.4L382.8,170.7L383.8,173.3L382.8,176.4L381.2,178.2L379.3,177.5L378.1,175.6Z" fill="#d95f0e" stroke="#4a4638" stroke-width="0.42" stroke-linejoin="round"/>
<path d="M384.1,175.3L386.1,174.7L386.8,176.1L385.3,177.3L384.1,176.5Z" fill="#d95f0e" stroke="#4a4638" stroke-width="0.42" stroke-linejoin="round"/>
<path d="M351.8,170.6L353.5,168.8L356.5,168.6L357.6,170.6L356.5,172.4L358.8,173.8L360.6,176.5L362.4,179.4L364.1,181.8L366.1,183.5L365.9,185.9L363.5,187.4L360.0,187.9L356.5,188.6L352.7,189.8L351.8,188.6L354.7,187.1L355.9,185.3L353.5,184.4L354.1,182.4L355.3,180.6L353.9,178.8L354.7,176.5L352.7,174.7L351.5,172.4Z" fill="#fe9929" stroke="#4a4638" stroke-width="0.42" stroke-linejoin="round"/>
<path d="M348.0,177.6L350.0,176.8L351.8,178.0L350.8,179.6L348.8,179.4Z" fill="#fe9929" stroke="#4a4638" stroke-width="0.42" stroke-linejoin="round"/>
<path d="M343.3,184.4L344.7,181.8L346.5,179.4L348.0,178.5L348.8,179.4L350.8,179.6L351.5,181.2L350.4,183.2L348.2,184.7L345.6,185.5Z" fill="#fec44f" stroke="#4a4638" stroke-width="0.42" stroke-linejoin="round"/>
<path d="M354.1,194.2L357.6,193.0L360.0,191.1L363.5,190.5L366.5,188.8L368.2,187.6L370.4,189.1L372.9,190.3L375.1,190.1L378.2,191.1L379.4,193.5L377.6,195.8L375.9,196.5L375.3,198.9L377.6,200.9L378.2,203.2L378.8,205.6L375.9,206.8L372.4,207.4L369.4,209.1L368.8,209.7L364.7,208.5L360.6,207.4L360.0,204.4L361.2,201.5L360.0,198.5L357.6,196.8L354.7,195.6Z" fill="#fee391" stroke="#4a4638" stroke-width="0.42" stroke-linejoin="round"/>
<path d="M381.2,208.5L382.4,207.6L382.9,210.3L381.8,211.8Z" fill="#fee391" stroke="#4a4638" stroke-width="0.42" stroke-linejoin="round"/>
<path d="M370.8,185.3L372.4,182.7L374.7,181.2L376.7,180.8L376.5,182.9L375.9,185.3L375.3,187.9L375.1,190.0L372.9,190.2L370.4,189.1L368.2,187.4L370.8,186.2Z" fill="#fe9929" stroke="#4a4638" stroke-width="0.42" stroke-linejoin="round"/>
<path d="M376.7,180.8L378.8,178.2L381.2,177.6L382.9,178.2L385.3,178.0L388.2,178.5L390.6,179.4L391.5,182.4L391.8,185.3L390.6,187.6L388.2,189.4L389.4,191.8L388.8,194.1L385.3,195.3L381.8,194.7L379.4,193.5L378.2,191.2L375.9,190.0L375.3,187.9L375.9,185.3L376.5,182.9Z" fill="#fec44f" stroke="#4a4638" stroke-width="0.42" stroke-linejoin="round"/>
<path d="M390.6,179.4L393.5,178.5L397.6,177.6L402.4,178.2L406.5,178.8L408.8,180.6L409.4,184.1L410.4,187.6L408.8,190.0L406.5,191.2L405.3,192.9L401.2,194.1L398.2,193.5L397.6,191.8L394.7,192.9L391.8,192.4L389.4,191.8L388.2,189.4L390.6,187.6L392.4,187.4L391.8,185.3L391.5,182.4Z" fill="#fee391" stroke="#4a4638" stroke-width="0.42" stroke-linejoin="round"/>
<path d="M402.4,176.5L404.5,174.9L407.1,174.5L410.6,174.5L414.1,175.3L412.9,177.6L410.6,179.4L407.6,180.0L406.5,178.8L402.9,178.2Z" fill="#fee391" stroke="#4a4638" stroke-width="0.42" stroke-linejoin="round"/>
<path d="M406.5,167.6L409.4,166.7L413.5,166.5L415.3,167.4L415.1,170.6L415.9,172.9L414.1,175.3L410.6,174.5L407.1,174.5L404.5,174.9L404.1,172.9L406.5,171.2L406.5,169.4Z" fill="#ffffd4" stroke="#4a4638" stroke-width="0.42" stroke-linejoin="round"/>
<path d="M410.6,179.4L412.9,177.6L414.1,175.3L417.6,175.3L421.2,176.5L424.1,178.2L425.9,180.6L427.6,182.9L425.9,184.7L429.4,185.3L432.9,187.1L436.5,188.2L439.8,190.0L442.4,191.8L443.5,194.1L441.2,195.9L438.8,197.6L435.9,198.8L437.6,200.6L434.1,202.0L430.6,200.6L428.2,198.8L426.5,199.4L423.5,200.6L422.4,202.9L421.2,199.4L417.6,198.2L415.3,195.9L411.8,194.7L408.8,194.1L407.6,194.1L405.3,192.9L406.5,191.2L408.8,190.0L410.4,187.6L409.4,184.1L408.8,180.6Z" fill="#ffffd4" stroke="#4a4638" stroke-width="0.42" stroke-linejoin="round"/>
<path d="M435.0,198.9L437.5,197.9L439.9,198.9L441.7,199.9L442.7,201.0L440.3,202.7L438.2,203.8L435.6,203.1L434.2,201.0Z" fill="#ffffd4" stroke="#4a4638" stroke-width="0.42" stroke-linejoin="round"/>
<path d="M375.9,196.5L379.4,195.4L381.8,195.0L385.3,195.4L385.9,197.0L382.9,198.5L380.0,199.4L377.6,198.9L375.3,198.9Z" fill="#fee391" stroke="#4a4638" stroke-width="0.42" stroke-linejoin="round"/>
<path d="M377.6,200.9L380.0,199.7L382.9,198.5L386.5,197.7L390.0,198.2L392.4,199.1L391.8,200.9L390.0,202.1L390.6,204.4L392.9,207.4L395.9,210.3L398.8,212.6L401.8,215.0L400.6,216.2L398.8,215.4L398.2,217.4L399.4,219.1L398.2,220.3L396.5,218.5L395.9,215.8L393.5,213.2L390.6,211.5L388.2,209.1L386.5,206.8L384.7,204.4L381.8,203.8L379.4,204.4L378.2,203.2Z" fill="#fec44f" stroke="#4a4638" stroke-width="0.42" stroke-linejoin="round"/>
<path d="M390.0,220.9L392.9,220.1L396.2,220.3L395.3,223.2L392.9,223.8L390.6,222.4Z" fill="#fec44f" stroke="#4a4638" stroke-width="0.42" stroke-linejoin="round"/>
<path d="M380.6,212.6L382.6,212.1L383.8,213.8L383.3,217.4L381.2,218.2L380.4,215.8Z" fill="#fec44f" stroke="#4a4638" stroke-width="0.42" stroke-linejoin="round"/>
<path d="M385.3,195.4L388.8,194.2L391.8,192.4L394.7,193.0L397.6,191.8L398.2,193.6L401.2,194.2L405.3,193.0L408.2,194.2L406.8,197.1L408.8,200.3L410.4,202.6L409.6,205.6L410.6,207.9L411.2,210.9L413.5,212.1L416.5,211.8L420.0,211.1L420.2,212.3L417.6,213.2L414.7,213.2L412.4,214.4L413.5,216.8L411.8,216.5L410.6,217.9L412.4,220.3L414.1,222.1L412.9,224.4L410.6,223.8L409.4,221.5L408.2,219.1L407.1,216.8L405.3,215.6L404.1,213.8L404.1,210.3L402.9,207.9L401.2,207.9L403.5,209.7L402.4,210.3L399.4,208.5L396.5,206.2L394.4,203.8L392.9,201.5L392.7,200.1L391.8,199.1L390.0,198.2L386.5,197.4L385.9,196.8Z" fill="#fec44f" stroke="#4a4638" stroke-width="0.42" stroke-linejoin="round"/>
<path d="M406.8,197.1L408.2,194.2L411.8,194.4L415.3,195.0L418.2,195.6L420.6,197.9L422.4,200.9L424.1,201.5L422.9,203.8L421.2,205.0L422.4,206.8L421.2,209.1L420.0,210.9L416.5,211.5L413.5,211.8L411.2,210.9L410.6,207.9L409.6,205.6L410.4,202.6L408.8,200.3Z" fill="#fee391" stroke="#4a4638" stroke-width="0.42" stroke-linejoin="round"/>
<path d="M413.9,227.1L416.5,226.8L420.0,227.6L419.4,228.8L415.9,228.5Z" fill="#fec44f" stroke="#4a4638" stroke-width="0.42" stroke-linejoin="round"/>
<path d="M433.5,228.3L435.9,227.4L437.6,226.8L436.7,228.8L434.7,229.7Z" fill="#fec44f" stroke="#4a4638" stroke-width="0.42" stroke-linejoin="round"/>
<path d="M344.7,207.4L347.1,206.4L351.8,206.4L356.5,207.1L360.6,207.4L364.7,208.5L368.8,209.7L368.2,211.5L365.3,213.8L363.5,216.8L362.9,219.7L360.6,222.1L357.6,223.2L354.1,223.8L351.8,225.0L350.6,225.9L349.4,224.4L347.6,222.6L344.7,223.2L343.3,222.6L343.8,219.1L342.9,216.2L344.1,213.2L343.8,210.3L345.3,210.3Z" fill="#fe9929" stroke="#4a4638" stroke-width="0.42" stroke-linejoin="round"/>
<path d="M420.0,216.9L424.2,214.0L428.5,211.9L434.2,210.5L439.8,211.9L444.8,212.6L449.7,212.2L454.0,213.3L457.1,215.5L458.2,218.3L457.1,221.1L453.3,222.1L448.3,223.0L443.4,223.5L439.8,223.2L435.6,224.0L431.3,224.7L427.1,223.2L422.8,221.8L420.0,220.4L417.2,219.7L415.8,217.6L417.9,216.4Z" fill="#fec44f" stroke="#4a4638" stroke-width="0.42" stroke-linejoin="round"/>
<path d="M418.6,211.5L421.2,210.3L422.9,211.5L422.4,213.2L420.0,213.8Z" fill="#fec44f" stroke="#4a4638" stroke-width="0.42" stroke-linejoin="round"/>
<path d="M448.3,207.7L452.6,208.4L457.5,210.2L461.1,211.2L459.0,212.6L454.0,213.3L449.7,212.2Z" fill="#fee391" stroke="#4a4638" stroke-width="0.42" stroke-linejoin="round"/>
<path d="M454.0,213.3L459.0,212.6L461.1,211.2L463.2,209.1L465.3,212.6L467.5,216.2L468.2,219.7L469.6,222.1L468.2,222.5L463.9,220.4L460.4,219.0L458.2,218.3L457.1,215.5Z" fill="#ffffd4" stroke="#4a4638" stroke-width="0.42" stroke-linejoin="round"/>
<path d="M442.7,224.0L448.3,223.0L453.3,222.1L454.0,225.4L451.9,228.9L448.3,231.7L444.8,233.9L442.7,231.7L443.4,227.5Z" fill="#fee391" stroke="#4a4638" stroke-width="0.42" stroke-linejoin="round"/>
<path d="M442.7,224.0L448.3,223.0L453.3,222.1L457.1,221.1L459.7,221.8L462.5,225.4L463.9,230.3L467.5,235.3L469.6,240.9L469.9,241.4L470.4,244.0L471.6,246.2L473.5,248.8L475.5,251.0L477.2,252.7L478.8,253.7L478.5,255.0L479.2,256.3L480.5,257.0L482.5,257.0L484.4,256.4L486.0,255.0L487.7,253.2L489.3,252.0L490.0,252.3L489.7,254.0L490.3,255.4L492.0,257.0L494.5,258.6L496.5,260.0L497.8,262.0L498.0,264.9L495.1,268.3L492.2,271.9L488.0,274.7L483.0,277.5L478.1,279.7L473.8,281.8L468.9,283.9L463.9,286.0L462.1,285.3L461.2,281.1L459.7,276.5L457.1,271.9L454.6,268.0L453.4,266.9L452.0,264.9L451.0,262.9L450.5,260.5L449.5,258.7L447.8,257.3L446.1,254.7L444.5,252.2L442.8,250.1L441.2,247.8L440.0,246.5L441.0,241.7L440.0,237.4L439.8,234.6L441.2,228.9Z" fill="#ffffd4" stroke="#4a4638" stroke-width="0.42" stroke-linejoin="round"/>
<path d="M442.7,224.0L448.3,223.0L453.3,222.1L454.0,225.4L451.9,228.9L448.3,231.7L444.8,233.9L442.7,231.7L443.4,227.5Z" fill="#fee391" stroke="#4a4638" stroke-width="0.42" stroke-linejoin="round"/>
<path d="M440.0,237.4L441.2,233.9L442.1,234.6L441.5,238.1L441.0,241.7Z" fill="#fee391" stroke="#4a4638" stroke-width="0.42" stroke-linejoin="round"/>
<path d="M351.2,225.0L357.5,223.8L365.5,223.8L373.8,223.0L381.2,222.5L386.2,223.0L387.5,226.2L386.2,229.5L388.0,233.8L387.0,237.5L393.8,236.2L400.0,237.5L406.2,240.0L410.0,237.5L413.8,235.0L418.8,237.0L425.0,238.0L431.2,237.5L436.2,238.2L438.4,238.5L440.0,237.4L441.0,241.7L439.3,246.2L438.1,245.6L436.4,243.4L435.0,240.5L434.3,242.3L436.0,245.0L437.7,247.8L438.7,250.1L440.3,253.0L442.0,255.7L443.2,257.7L442.8,259.0L443.9,260.5L445.8,262.5L446.5,264.5L447.1,268.0L448.3,270.5L450.3,274.0L452.9,278.5L455.4,282.5L457.1,285.3L458.8,287.7L460.4,288.9L461.8,289.6L462.5,291.0L466.7,290.3L472.4,288.9L478.1,288.2L480.9,288.9L480.2,291.7L478.1,295.9L474.5,301.6L470.3,307.3L465.3,312.9L461.1,319.3L459.0,325.0L454.5,337.5L456.2,345.0L457.0,350.0L456.2,357.5L452.5,363.8L447.5,368.8L443.8,372.5L442.5,377.5L443.0,383.8L440.0,386.2L436.2,387.5L435.0,391.2L433.0,396.2L428.8,401.2L423.8,405.0L417.5,408.0L411.2,409.5L405.0,410.0L402.5,406.2L401.2,400.0L399.5,393.8L397.0,386.2L393.8,378.8L390.5,371.2L389.5,365.0L391.2,358.8L392.5,351.2L393.0,344.5L393.6,345.0L392.6,339.3L391.5,334.4L389.4,331.5L387.2,328.7L385.1,325.9L383.3,322.3L384.4,319.5L384.1,316.7L385.1,314.5L384.4,311.7L383.0,309.6L380.2,308.9L375.9,308.9L373.8,306.0L371.7,303.9L367.4,304.2L362.5,306.0L357.5,307.0L353.2,306.0L349.0,307.0L345.5,308.4L342.6,307.5L338.4,304.6L334.8,301.1L332.0,297.1L329.2,293.3L326.3,290.5L324.6,287.6L324.9,284.8L322.8,282.0L324.2,277.0L325.2,271.3L324.9,264.2L327.5,257.5L331.2,251.2L335.0,246.2L337.5,241.2L341.2,236.2L343.8,231.2L347.5,227.0Z" fill="#ffffd4" stroke="#4a4638" stroke-width="0.42" stroke-linejoin="round"/>
<path d="M460.5,382.5L462.0,375.0L465.0,368.8L468.8,363.8L472.5,358.8L475.5,352.5L478.0,356.2L477.5,362.5L475.5,370.0L473.0,377.5L470.0,383.8L466.2,386.2L462.5,386.2Z" fill="#ffffd4" stroke="#4a4638" stroke-width="0.42" stroke-linejoin="round"/>
<path d="M358.0,237.0L362.5,229.5L367.5,225.0L373.8,223.0L381.2,222.5L386.2,223.0L387.5,226.2L386.2,229.5L388.0,233.8L387.0,237.5L385.0,240.0L385.5,243.8L386.2,251.2L388.8,258.8L381.2,263.8L372.5,269.5L366.2,265.5L358.8,260.0L351.2,255.0L344.5,250.0L344.5,246.2L350.0,242.5L356.2,240.0Z" fill="#fee391" stroke="#4a4638" stroke-width="0.42" stroke-linejoin="round"/>
<path d="M325.0,263.8L327.5,257.5L331.2,251.2L335.0,246.2L344.5,246.2L344.5,250.0L337.5,250.0L337.0,256.2L332.5,257.5L331.2,262.5Z" fill="url(#h)" stroke="#4a4638" stroke-width="0.42" stroke-linejoin="round"/>
<path d="M397.2,302.5L400.0,300.4L404.9,298.2L408.5,296.1L412.0,293.3L414.2,291.4L414.8,291.4L417.0,294.2L419.8,298.5L422.6,302.7L425.5,307.7L429.7,309.1L432.5,311.2L434.0,315.5L432.5,320.5L430.4,325.4L429.7,331.1L431.1,335.3L432.5,341.0L428.3,343.1L426.9,348.1L429.7,350.9L430.4,353.7L428.3,353.0L423.3,350.2L418.4,349.5L414.1,348.1L412.7,341.7L409.2,338.9L403.5,340.3L400.7,335.3L400.0,334.4L394.3,333.7L392.2,332.9L389.4,331.5L387.2,328.7L385.1,325.9L383.3,322.3L384.4,319.5L385.1,317.4L389.4,316.7L389.4,314.5L394.3,314.5L397.2,315.9L400.0,314.5L402.8,311.0L399.3,311.7L397.2,308.2Z" fill="#fee391" stroke="#4a4638" stroke-width="0.42" stroke-linejoin="round"/>
<path d="M389.5,365.5L397.5,366.2L405.0,366.2L410.0,365.5L416.2,366.2L421.2,367.5L426.2,362.5L432.5,361.2L437.0,364.5L437.5,371.2L435.0,376.2L433.8,378.8L435.0,385.0L435.0,391.2L433.0,396.2L428.8,401.2L423.8,405.0L417.5,408.0L411.2,409.5L405.0,410.0L402.5,406.2L401.2,400.0L399.5,393.8L397.0,386.2L393.8,378.8L390.5,371.2Z" fill="#fee391" stroke="#4a4638" stroke-width="0.42" stroke-linejoin="round"/>
<path d="M422.5,396.2L425.5,394.5L428.0,397.0L425.0,400.0L423.0,398.8Z" fill="#fe9929" stroke="#4a4638" stroke-width="0.42" stroke-linejoin="round"/>
<path d="M432.0,387.5L434.5,387.0L435.0,390.5L432.5,391.2Z" fill="#ffffd4" stroke="#4a4638" stroke-width="0.42" stroke-linejoin="round"/>
<path d="M9.0,267.5L11.0,266.8L12.0,268.5L11.0,270.0L9.5,270.8Z" fill="#fe9929" stroke="#4a4638" stroke-width="0.42" stroke-linejoin="round"/>
<path d="M5.2,263.4L7.0,264.0L9.5,265.5L9.0,266.0L6.0,264.5Z" fill="#fe9929" stroke="#4a4638" stroke-width="0.42" stroke-linejoin="round"/>
<path d="M2.0,262.0L3.4,262.2L3.0,263.2Z" fill="#fe9929" stroke="#4a4638" stroke-width="0.42" stroke-linejoin="round"/>
<path d="M492.5,372.0L493.8,372.0L493.8,373.2L492.5,373.2Z" fill="#fe9929" stroke="#4a4638" stroke-width="0.42" stroke-linejoin="round"/>
<path d="M377.5,318.2L378.8,318.2L378.8,319.5L377.5,319.5Z" fill="#fe9929" stroke="#4a4638" stroke-width="0.42" stroke-linejoin="round"/>
<path d="M222.0,294.0L224.0,294.0L224.0,295.5L222.0,295.5Z" fill="#fee391" stroke="#4a4638" stroke-width="0.42" stroke-linejoin="round"/>
<path d="M307.0,276.2L308.5,275.8L309.0,277.5L307.5,278.0Z" fill="#ffffd4" stroke="#4a4638" stroke-width="0.42" stroke-linejoin="round"/>
<path d="M309.5,279.5L311.0,279.5L311.0,281.0L309.5,281.0Z" fill="#ffffd4" stroke="#4a4638" stroke-width="0.42" stroke-linejoin="round"/>
<path d="M655.0,139.0L658.0,138.8L658.2,140.0L655.5,140.2Z" fill="#fee391" stroke="#4a4638" stroke-width="0.42" stroke-linejoin="round"/>
<path d="M532.5,310.0L533.2,310.0L533.2,311.5L532.5,311.5Z" fill="#fee391" stroke="#4a4638" stroke-width="0.42" stroke-linejoin="round"/>
<path d="M196.2,291.4L195.2,295.7L197.6,299.2L201.9,302.0L206.1,304.2L207.1,308.4L206.5,313.4L208.0,315.5L202.9,316.2L201.9,320.5L201.4,326.1L200.5,331.1L195.5,333.2L193.4,337.5L194.1,341.7L197.6,345.2L201.9,348.1L204.0,348.8L208.2,346.7L212.5,345.9L213.9,350.9L218.2,353.0L223.1,355.2L225.9,359.4L229.5,361.5L231.6,366.5L232.3,370.7" fill="none" stroke="#4a4638" stroke-width="0.42" stroke-linejoin="round"/>
<path d="M182.0,316.9L186.3,319.0L189.8,320.5L192.7,324.0L196.2,326.1L200.5,327.1L201.4,326.1" fill="none" stroke="#4a4638" stroke-width="0.42" stroke-linejoin="round"/>
<path d="M189.8,320.5L188.4,324.7L184.2,328.2L180.6,331.8L177.1,331.1" fill="none" stroke="#4a4638" stroke-width="0.42" stroke-linejoin="round"/>
<path d="M208.0,315.5L211.1,317.6L215.0,314.8L215.6,310.5L219.6,309.1L223.1,307.7" fill="none" stroke="#4a4638" stroke-width="0.42" stroke-linejoin="round"/>
<path d="M230.2,304.2L233.7,304.2L237.7,304.9" fill="none" stroke="#4a4638" stroke-width="0.42" stroke-linejoin="round"/>
<path d="M231.6,311.2L234.4,313.4L237.3,312.7" fill="none" stroke="#4a4638" stroke-width="0.42" stroke-linejoin="round"/>
<path d="M204.0,348.8L205.5,353.8L204.5,360.0L206.2,365.0L208.0,370.0L210.0,378.8L209.5,386.2L208.0,395.0L209.5,405.0L210.5,415.0L211.2,425.0L213.8,435.0L215.5,445.0L218.8,452.5L223.8,457.0L228.8,457.0" fill="none" stroke="#4a4638" stroke-width="0.42" stroke-linejoin="round"/>
<path d="M232.0,367.5L232.5,371.2L226.2,370.0L222.0,372.5L223.0,378.0L217.5,378.8L212.5,380.0L210.0,378.8" fill="none" stroke="#4a4638" stroke-width="0.42" stroke-linejoin="round"/>
<path d="M232.5,371.2L234.5,376.2L238.8,380.0L240.5,385.5L238.8,390.0L235.0,391.2L232.0,389.5L233.8,385.5L228.8,382.5L223.0,378.0" fill="none" stroke="#4a4638" stroke-width="0.42" stroke-linejoin="round"/>
<path d="M238.8,390.0L242.5,387.5L243.8,391.2L240.0,395.0L236.2,399.5" fill="none" stroke="#4a4638" stroke-width="0.42" stroke-linejoin="round"/>
<path d="M226.2,456.2L227.0,462.5" fill="none" stroke="#4a4638" stroke-width="0.42" stroke-linejoin="round"/>
<path d="M159.5,281.7L162.3,283.8L160.9,284.5" fill="none" stroke="#4a4638" stroke-width="0.42" stroke-linejoin="round"/>
<path d="M162.3,283.8L166.6,282.4L170.8,280.9L172.5,280.2" fill="none" stroke="#4a4638" stroke-width="0.42" stroke-linejoin="round"/>
<path d="M165.9,289.4L170.8,290.2" fill="none" stroke="#4a4638" stroke-width="0.42" stroke-linejoin="round"/>
<path d="M171.5,293.7L172.5,296.5" fill="none" stroke="#4a4638" stroke-width="0.42" stroke-linejoin="round"/>
<path d="M200.8,268.3L201.3,272.5" fill="none" stroke="#4a4638" stroke-width="0.42" stroke-linejoin="round"/>
<path d="M358.0,237.0L356.2,240.0L350.0,242.5L344.5,246.2" fill="none" stroke="#4a4638" stroke-width="0.42" stroke-linejoin="round"/>
<path d="M344.5,250.0L351.2,255.0L350.8,260.5" fill="none" stroke="#4a4638" stroke-width="0.42" stroke-linejoin="round"/>
<path d="M388.8,258.8L396.2,261.2L398.0,265.5L417.5,267.5L419.5,267.5L419.5,262.5L418.8,237.5" fill="none" stroke="#4a4638" stroke-width="0.42" stroke-linejoin="round"/>
<path d="M419.5,262.5L446.2,262.5" fill="none" stroke="#4a4638" stroke-width="0.42" stroke-linejoin="round"/>
<path d="M417.5,267.5L416.2,280.0L413.8,286.2L415.5,291.2" fill="none" stroke="#4a4638" stroke-width="0.42" stroke-linejoin="round"/>
<path d="M325.2,264.2L332.7,264.2L349.7,265.0L350.4,279.1L336.2,279.8" fill="none" stroke="#4a4638" stroke-width="0.42" stroke-linejoin="round"/>
<path d="M381.2,222.5L382.5,226.2L380.5,232.5L383.8,237.5L385.0,240.0" fill="none" stroke="#4a4638" stroke-width="0.42" stroke-linejoin="round"/>
<path d="M322.8,282.0L325.6,277.7L329.9,276.3L334.8,279.8L336.2,284.8L336.2,287.6L330.6,287.6L324.9,287.6" fill="none" stroke="#4a4638" stroke-width="0.42" stroke-linejoin="round"/>
<path d="M323.5,284.8L329.2,284.4L323.8,285.8" fill="none" stroke="#4a4638" stroke-width="0.42" stroke-linejoin="round"/>
<path d="M326.3,290.5L330.6,287.6" fill="none" stroke="#4a4638" stroke-width="0.42" stroke-linejoin="round"/>
<path d="M336.2,287.6L340.5,288.3L344.0,293.3L344.7,298.2L341.2,299.0L338.4,295.4L334.8,294.0L332.0,297.1" fill="none" stroke="#4a4638" stroke-width="0.42" stroke-linejoin="round"/>
<path d="M334.8,301.1L338.4,295.4" fill="none" stroke="#4a4638" stroke-width="0.42" stroke-linejoin="round"/>
<path d="M338.4,304.6L341.2,299.0" fill="none" stroke="#4a4638" stroke-width="0.42" stroke-linejoin="round"/>
<path d="M344.7,298.2L345.5,308.4" fill="none" stroke="#4a4638" stroke-width="0.42" stroke-linejoin="round"/>
<path d="M336.2,279.8L336.2,284.8" fill="none" stroke="#4a4638" stroke-width="0.42" stroke-linejoin="round"/>
<path d="M344.0,293.3L344.7,293.3L351.1,294.0L355.4,292.6L356.8,296.8L356.1,302.5L356.4,306.7" fill="none" stroke="#4a4638" stroke-width="0.42" stroke-linejoin="round"/>
<path d="M356.8,291.9L363.2,291.9L364.6,296.8L363.9,302.5L364.9,305.0" fill="none" stroke="#4a4638" stroke-width="0.42" stroke-linejoin="round"/>
<path d="M365.3,293.3L366.0,304.2" fill="none" stroke="#4a4638" stroke-width="0.42" stroke-linejoin="round"/>
<path d="M368.1,292.6L368.8,303.9" fill="none" stroke="#4a4638" stroke-width="0.42" stroke-linejoin="round"/>
<path d="M370.9,289.0L369.5,296.8L369.5,303.6" fill="none" stroke="#4a4638" stroke-width="0.42" stroke-linejoin="round"/>
<path d="M351.1,294.0L350.4,290.5L354.7,285.5L360.3,281.2L364.6,283.4L368.8,287.6L368.1,290.5L363.2,291.9L356.8,291.9L355.4,292.6" fill="none" stroke="#4a4638" stroke-width="0.42" stroke-linejoin="round"/>
<path d="M350.4,279.1L360.3,281.2" fill="none" stroke="#4a4638" stroke-width="0.42" stroke-linejoin="round"/>
<path d="M372.4,269.6L371.7,278.4L364.6,281.2L360.3,281.2" fill="none" stroke="#4a4638" stroke-width="0.42" stroke-linejoin="round"/>
<path d="M368.8,287.6L372.4,284.8L378.7,286.2L385.8,285.5L392.2,285.5L395.7,286.9" fill="none" stroke="#4a4638" stroke-width="0.42" stroke-linejoin="round"/>
<path d="M398.6,260.0L397.9,267.8L395.7,275.6L393.6,281.2L395.7,286.9L397.2,290.5L394.3,294.0L392.2,299.0L387.2,302.5L383.7,307.5L383.0,309.6" fill="none" stroke="#4a4638" stroke-width="0.42" stroke-linejoin="round"/>
<path d="M397.2,290.5L395.7,294.7L398.6,299.7L397.2,302.5" fill="none" stroke="#4a4638" stroke-width="0.42" stroke-linejoin="round"/>
<path d="M385.1,314.5L389.4,314.5L389.4,316.7L385.1,317.4" fill="none" stroke="#4a4638" stroke-width="0.42" stroke-linejoin="round"/>
<path d="M389.4,316.7L392.2,318.1L395.7,316.7L396.4,320.9L395.0,325.2L391.5,325.9L390.1,329.4L389.4,331.5" fill="none" stroke="#4a4638" stroke-width="0.42" stroke-linejoin="round"/>
<path d="M402.8,311.0L404.2,313.8L403.5,318.1L402.1,322.3L400.7,325.9L398.6,329.4L395.0,331.5L392.2,332.9" fill="none" stroke="#4a4638" stroke-width="0.42" stroke-linejoin="round"/>
<path d="M399.3,311.7L397.2,315.9" fill="none" stroke="#4a4638" stroke-width="0.42" stroke-linejoin="round"/>
<path d="M405.7,308.9L408.5,307.5L412.7,308.9L416.3,306.7L420.5,307.5L424.8,306.0" fill="none" stroke="#4a4638" stroke-width="0.42" stroke-linejoin="round"/>
<path d="M440.3,299.2L443.9,305.6L448.8,309.1L454.5,310.5L458.7,309.1L464.4,305.6L470.1,301.3L472.2,299.2L465.8,297.1L461.6,293.5L459.4,290.0" fill="none" stroke="#4a4638" stroke-width="0.42" stroke-linejoin="round"/>
<path d="M443.9,305.6L442.5,309.8L443.2,314.8L441.7,318.3L442.5,322.6L448.1,326.1L453.1,330.4L454.5,332.5" fill="none" stroke="#4a4638" stroke-width="0.42" stroke-linejoin="round"/>
<path d="M458.7,309.1L457.3,314.1L457.6,319.7L458.7,324.0" fill="none" stroke="#4a4638" stroke-width="0.42" stroke-linejoin="round"/>
<path d="M432.5,311.2L437.5,309.8L442.5,309.8" fill="none" stroke="#4a4638" stroke-width="0.42" stroke-linejoin="round"/>
<path d="M437.5,309.8L440.3,305.6L440.3,299.2L437.5,295.7L434.7,292.8L436.1,290.0" fill="none" stroke="#4a4638" stroke-width="0.42" stroke-linejoin="round"/>
<path d="M432.5,323.3L436.1,322.6L442.5,322.6" fill="none" stroke="#4a4638" stroke-width="0.42" stroke-linejoin="round"/>
<path d="M430.4,327.5L434.0,327.1" fill="none" stroke="#4a4638" stroke-width="0.42" stroke-linejoin="round"/>
<path d="M432.5,341.0L436.1,343.1L440.3,345.9L439.6,350.9L441.7,355.2L443.9,358.0L444.3,361.5L442.5,362.2L441.0,359.4L438.2,356.6L437.5,353.7L433.2,358.0L429.7,361.5L425.5,363.7L421.2,366.5L416.2,366.5L412.7,363.7L412.7,354.4L414.1,348.1" fill="none" stroke="#4a4638" stroke-width="0.42" stroke-linejoin="round"/>
<path d="M440.3,345.9L442.5,350.2L446.7,350.2L451.7,348.8L455.9,346.7" fill="none" stroke="#4a4638" stroke-width="0.42" stroke-linejoin="round"/>
<path d="M430.4,353.7L432.5,352.3L436.1,346.7L436.1,343.1" fill="none" stroke="#4a4638" stroke-width="0.42" stroke-linejoin="round"/>
<path d="M395.0,335.3L400.7,335.3" fill="none" stroke="#4a4638" stroke-width="0.42" stroke-linejoin="round"/>
<path d="M412.7,363.7L410.6,367.2L395.0,365.8" fill="none" stroke="#4a4638" stroke-width="0.42" stroke-linejoin="round"/>
<path d="M410.6,367.2L410.6,375.0" fill="none" stroke="#4a4638" stroke-width="0.42" stroke-linejoin="round"/>
<path d="M421.2,366.5L423.3,370.7L425.5,375.0" fill="none" stroke="#4a4638" stroke-width="0.42" stroke-linejoin="round"/>
<path d="M437.2,365.1L437.5,370.7L436.1,375.0" fill="none" stroke="#4a4638" stroke-width="0.42" stroke-linejoin="round"/>
<path d="M417.0,294.2L414.8,291.4" fill="none" stroke="#4a4638" stroke-width="0.42" stroke-linejoin="round"/>
<path d="M415.5,291.2L420.0,295.0L427.5,296.2L435.0,293.8L440.0,291.2L443.8,296.2" fill="none" stroke="#4a4638" stroke-width="0.42" stroke-linejoin="round"/>
<path d="M446.2,262.5L450.0,282.5L446.2,288.8L443.8,296.2" fill="none" stroke="#4a4638" stroke-width="0.42" stroke-linejoin="round"/>
<path d="M450.0,282.5L456.2,283.8L462.0,288.8" fill="none" stroke="#4a4638" stroke-width="0.42" stroke-linejoin="round"/>
<path d="M463.8,291.2L466.2,296.2L475.0,300.0" fill="none" stroke="#4a4638" stroke-width="0.42" stroke-linejoin="round"/>
<path d="M410.0,365.5L413.8,367.0L410.0,368.8L409.5,375.0L408.8,382.5L408.0,390.0L406.2,395.0L402.5,396.2" fill="none" stroke="#4a4638" stroke-width="0.42" stroke-linejoin="round"/>
<path d="M408.0,390.0L411.2,390.0L416.2,387.5L420.0,385.0L424.5,381.2L426.2,376.2L430.0,378.0L433.8,378.8" fill="none" stroke="#4a4638" stroke-width="0.42" stroke-linejoin="round"/>
<path d="M426.2,376.2L421.2,371.2L416.2,366.2" fill="none" stroke="#4a4638" stroke-width="0.42" stroke-linejoin="round"/>
<path d="M433.8,378.8L437.5,371.2" fill="none" stroke="#4a4638" stroke-width="0.42" stroke-linejoin="round"/>
<path d="M454.0,225.4L451.9,228.9L448.3,231.7L449.0,233.9L453.3,236.0L458.2,238.8L463.2,241.7L467.5,243.1L469.6,240.9" fill="none" stroke="#4a4638" stroke-width="0.42" stroke-linejoin="round"/>
<path d="M444.8,233.9L449.0,233.9L444.8,239.5L441.2,242.4" fill="none" stroke="#4a4638" stroke-width="0.42" stroke-linejoin="round"/>
<path d="M441.2,228.9L442.7,229.2L442.9,231.7" fill="none" stroke="#4a4638" stroke-width="0.42" stroke-linejoin="round"/>
<path d="M467.5,243.1L468.9,244.5L469.9,242.8" fill="none" stroke="#4a4638" stroke-width="0.42" stroke-linejoin="round"/>
<path d="M460.4,281.1L462.5,275.4L468.2,274.0L473.8,271.9L480.9,270.5L483.0,277.5" fill="none" stroke="#4a4638" stroke-width="0.42" stroke-linejoin="round"/>
<path d="M480.9,270.5L484.4,269.0L488.7,261.2L486.6,255.6" fill="none" stroke="#4a4638" stroke-width="0.42" stroke-linejoin="round"/>
<path d="M483.0,255.9L484.4,258.4L488.7,261.2" fill="none" stroke="#4a4638" stroke-width="0.42" stroke-linejoin="round"/>
<path d="M478.1,251.3L478.8,253.5L479.8,252.5" fill="none" stroke="#4a4638" stroke-width="0.42" stroke-linejoin="round"/>
<path d="M480.2,211.9L483.7,209.8L488.0,211.2L492.2,213.3L497.2,216.9L502.2,220.4L507.1,222.5L510.7,222.1" fill="none" stroke="#4a4638" stroke-width="0.42" stroke-linejoin="round"/>
<path d="M491.5,222.5L496.5,226.1L501.4,225.4L505.0,223.2L510.7,222.1L514.2,221.1L519.2,220.4L523.4,218.3" fill="none" stroke="#4a4638" stroke-width="0.42" stroke-linejoin="round"/>
<path d="M510.7,215.5L514.9,216.2L519.2,214.7L524.1,213.3" fill="none" stroke="#4a4638" stroke-width="0.42" stroke-linejoin="round"/>
<path d="M507.1,212.6L509.2,215.5L512.8,214.0L517.7,212.6L519.2,210.5L516.3,209.8" fill="none" stroke="#4a4638" stroke-width="0.42" stroke-linejoin="round"/>
<path d="M510.7,222.1L512.1,219.0L510.7,215.5" fill="none" stroke="#4a4638" stroke-width="0.42" stroke-linejoin="round"/>
<path d="M541.0,242.5L542.5,245.0L546.0,246.5L550.0,248.0L554.0,249.5L558.0,250.5L560.0,250.0L560.0,246.8" fill="none" stroke="#4a4638" stroke-width="0.42" stroke-linejoin="round"/>
<path d="M562.0,247.0L562.5,249.0L565.0,249.8L568.0,249.5L569.0,247.5" fill="none" stroke="#4a4638" stroke-width="0.42" stroke-linejoin="round"/>
<path d="M564.0,262.0L563.5,259.5L562.5,256.5L561.5,254.5L560.5,252.0L563.0,252.5L565.0,253.5L568.0,254.5L570.0,255.0L571.0,256.5L570.0,258.0L569.0,259.5L570.5,261.0L571.5,263.5" fill="none" stroke="#4a4638" stroke-width="0.42" stroke-linejoin="round"/>
<path d="M594.7,262.6L594.0,265.5L592.6,268.3L594.0,272.5L598.3,272.5L601.1,274.7L603.2,278.9L604.4,282.5" fill="none" stroke="#4a4638" stroke-width="0.42" stroke-linejoin="round"/>
<path d="M597.6,286.7L599.0,283.9L601.8,282.5L606.1,282.5L608.2,281.7L609.6,286.0L608.9,289.5L606.4,292.4" fill="none" stroke="#4a4638" stroke-width="0.42" stroke-linejoin="round"/>
<path d="M595.5,301.6L598.3,302.7" fill="none" stroke="#4a4638" stroke-width="0.42" stroke-linejoin="round"/>
<path d="M616.0,318.0L621.0,317.6L627.0,315.6L631.0,310.0L633.6,306.0" fill="none" stroke="#4a4638" stroke-width="0.42" stroke-linejoin="round"/>
<path d="M348.5,210.3L349.2,212.1L348.2,215.6L348.8,219.1L347.6,222.6" fill="none" stroke="#4a4638" stroke-width="0.42" stroke-linejoin="round"/>
<path d="M370.8,186.2L373.5,186.7L375.9,185.3" fill="none" stroke="#4a4638" stroke-width="0.42" stroke-linejoin="round"/>
<path d="M388.2,189.4L390.6,187.6L392.4,187.4L395.3,188.8L398.8,190.0L397.6,191.8L394.7,192.9L391.8,192.4L389.4,191.8" fill="none" stroke="#4a4638" stroke-width="0.42" stroke-linejoin="round"/>
<path d="M398.8,190.0L402.9,190.6L406.5,191.2" fill="none" stroke="#4a4638" stroke-width="0.42" stroke-linejoin="round"/>
<path d="M406.5,171.2L408.2,170.6L411.8,171.2L415.1,170.6" fill="none" stroke="#4a4638" stroke-width="0.42" stroke-linejoin="round"/>
<path d="M410.4,187.6L410.6,185.5L414.1,185.1L418.8,185.3L422.9,185.3L425.9,184.7" fill="none" stroke="#4a4638" stroke-width="0.42" stroke-linejoin="round"/>
<path d="M418.2,195.6L420.6,197.9L422.4,200.9" fill="none" stroke="#4a4638" stroke-width="0.42" stroke-linejoin="round"/>
<path d="M385.3,195.4L385.9,197.0" fill="none" stroke="#4a4638" stroke-width="0.42" stroke-linejoin="round"/>
<path d="M397.1,195.8L398.2,193.6L401.2,194.2L405.3,193.0L408.2,194.2" fill="none" stroke="#4a4638" stroke-width="0.42" stroke-linejoin="round"/>
<path d="M397.1,195.8L392.9,197.1L391.8,199.1L392.7,200.1L395.3,199.7L397.6,197.9L399.4,198.9L403.5,198.9L406.8,197.1" fill="none" stroke="#4a4638" stroke-width="0.42" stroke-linejoin="round"/>
<path d="M397.6,197.9L401.2,198.5L404.1,200.1L403.5,201.5L400.0,201.2L397.6,201.5L396.5,203.2L398.8,205.6L401.2,207.9" fill="none" stroke="#4a4638" stroke-width="0.42" stroke-linejoin="round"/>
<path d="M403.5,198.9L404.1,200.1" fill="none" stroke="#4a4638" stroke-width="0.42" stroke-linejoin="round"/>
<path d="M403.5,201.5L404.5,203.8L404.1,206.2L402.9,207.9" fill="none" stroke="#4a4638" stroke-width="0.42" stroke-linejoin="round"/>
<path d="M404.5,203.8L405.3,206.8L406.5,209.1L408.8,209.7L410.6,207.9" fill="none" stroke="#4a4638" stroke-width="0.42" stroke-linejoin="round"/>
<path d="M404.1,210.3L405.3,209.1L406.5,209.7L407.1,212.1L405.9,213.8L404.5,213.8" fill="none" stroke="#4a4638" stroke-width="0.42" stroke-linejoin="round"/>
<path d="M405.9,211.5L408.8,210.3L411.2,211.1" fill="none" stroke="#4a4638" stroke-width="0.42" stroke-linejoin="round"/>
<path d="M410.4,205.6L414.1,205.9L417.6,205.2L421.2,205.0" fill="none" stroke="#4a4638" stroke-width="0.42" stroke-linejoin="round"/>
<path d="M420.0,211.1L420.0,213.8" fill="none" stroke="#4a4638" stroke-width="0.42" stroke-linejoin="round"/>
<rect x="215.5" y="537.5" width="48" height="11" fill="url(#h)" stroke="#c4c4c4" stroke-width="1"/>
<line x1="239.5" y1="534" x2="239.5" y2="537" stroke="#bbb" stroke-width="1"/>
<rect x="283.0" y="537.5" width="58.5" height="11" fill="#ffffd4" stroke="#999" stroke-width="0.5"/>
<rect x="341.5" y="537.5" width="58.5" height="11" fill="#fee391" stroke="#999" stroke-width="0.5"/>
<rect x="400.0" y="537.5" width="58.5" height="11" fill="#fec44f" stroke="#999" stroke-width="0.5"/>
<rect x="458.5" y="537.5" width="58.5" height="11" fill="#fe9929" stroke="#999" stroke-width="0.5"/>
<rect x="517.0" y="537.5" width="58.5" height="11" fill="#d95f0e" stroke="#999" stroke-width="0.5"/>
<path d="M575.5,537.5H629.5L634,543L629.5,548.5H575.5Z" fill="#993404" stroke="#999" stroke-width="0.5"/>
<line x1="283.0" y1="534" x2="283.0" y2="548.5" stroke="#aaa" stroke-width="0.7"/>
<line x1="341.5" y1="534" x2="341.5" y2="548.5" stroke="#aaa" stroke-width="0.7"/>
<line x1="400.0" y1="534" x2="400.0" y2="548.5" stroke="#aaa" stroke-width="0.7"/>
<line x1="458.5" y1="534" x2="458.5" y2="548.5" stroke="#aaa" stroke-width="0.7"/>
<line x1="517.0" y1="534" x2="517.0" y2="548.5" stroke="#aaa" stroke-width="0.7"/>
<line x1="575.5" y1="534" x2="575.5" y2="548.5" stroke="#aaa" stroke-width="0.7"/>
</svg>
<div class="lg" style="left:239px">No data</div>
<div class="lg" style="left:283px">0</div>
<div class="lg" style="left:341.5px">20</div>
<div class="lg" style="left:400px">40</div>
<div class="lg" style="left:458.5px">60</div>
<div class="lg" style="left:517px">80</div>
<div class="lg" style="left:575.5px">100</div>
<div class="foot fl" style="letter-spacing:-0.1px"><b style="letter-spacing:-0.55px">Data source:</b> IHME, Global Burden of Disease (2025)</div>
<div class="foot fr">OurWorldinData.org/causes-of-death | CC BY</div>
</body></html>
